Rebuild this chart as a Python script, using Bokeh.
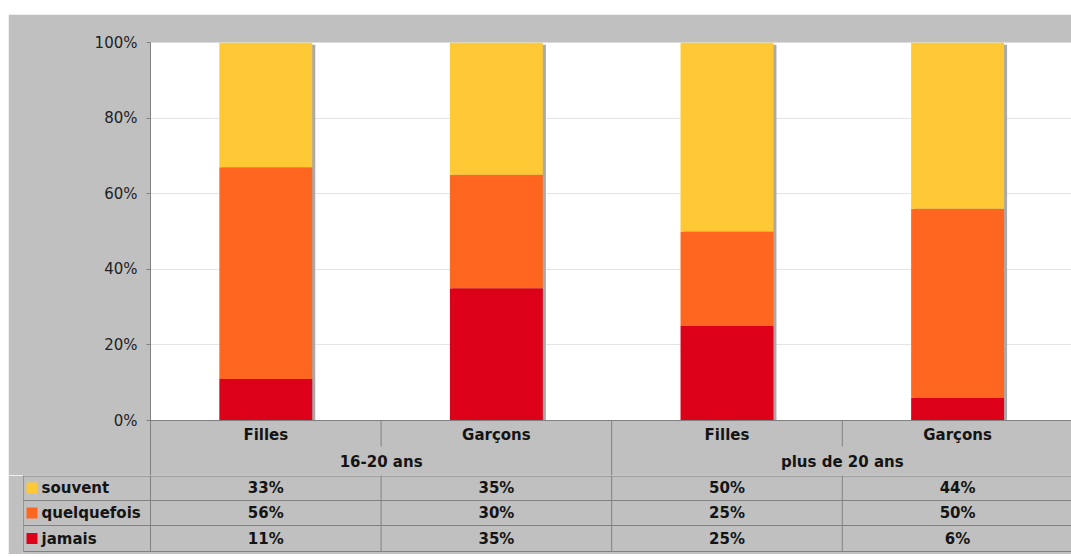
from bokeh.plotting import figure
from bokeh.layouts import row
from bokeh.models import (Range1d, PrintfTickFormatter, FixedTicker, Spacer, ColumnDataSource,
                          BoxAnnotation, Span)
from bokeh.core.properties import value
from bokeh.embed import file_html
from bokeh.resources import INLINE

# ---- data ----
groups = ["16-20 ans", "plus de 20 ans"]
subcats = ["Filles", "Garçons", "Filles", "Garçons"]
series = ["souvent", "quelquefois", "jamais"]
souvent = [33, 35, 50, 44]
quelquefois = [56, 30, 25, 50]
jamais = [11, 35, 25, 6]
colors = {"souvent": "#FFC936", "quelquefois": "#FF6620", "jamais": "#DC0018"}
yticks = [0, 20, 40, 60, 80, 100]

BG = "#c0c0c0"
LINE = "#808080"
FONT = "DejaVu Sans"

W = 1063
COLW = 230.6             # px per category column
XEND = (W - 142) / COLW  # visible columns in frame
xs = [i + 0.5 for i in range(len(subcats))]
PXU = 378 / 100          # px per percent unit
YMIN = -55 / PXU         # frame extends under 0% to hold the header rows

txt = dict(text_font=value(FONT), text_font_size="15px", text_font_style="bold",
           text_color="#141414", text_baseline="middle")

# ---- chart ----
p1 = figure(width=W, height=461, output_backend="svg", toolbar_location=None,
            x_range=Range1d(0, XEND), y_range=Range1d(YMIN, 100),
            min_border_left=142, min_border_right=0, min_border_top=28, min_border_bottom=0,
            x_axis_location=None)
p1.background_fill_color = BG
p1.border_fill_color = BG
p1.outline_line_color = None
p1.add_layout(BoxAnnotation(left=0, right=XEND, bottom=0, top=100, fill_color="white",
                            fill_alpha=1, line_color=None, level="image"))
p1.xgrid.visible = False
p1.ygrid.grid_line_color = "#e4e4e4"
p1.yaxis.ticker = FixedTicker(ticks=yticks)
p1.yaxis.formatter = PrintfTickFormatter(format="%d%%")
p1.yaxis.axis_line_color = LINE
p1.yaxis.major_tick_line_color = LINE
p1.yaxis.major_tick_out = 4
p1.yaxis.major_tick_in = 0
p1.yaxis.minor_tick_line_color = None
p1.yaxis.major_label_standoff = 9
p1.yaxis.major_label_text_font = FONT
p1.yaxis.major_label_text_font_size = "15px"
p1.yaxis.major_label_text_color = "#222222"

# shadows
shadow_off = 3 / COLW
p1.vbar(x=[x + shadow_off for x in xs], width=0.403, bottom=0,
        top=[j + q + s - 0.6 for j, q, s in zip(jamais, quelquefois, souvent)],
        fill_color="#a9a9a9", line_color=None)

src = ColumnDataSource(dict(x=xs, jamais=jamais, quelquefois=quelquefois, souvent=souvent))
stack_order = ["jamais", "quelquefois", "souvent"]
p1.vbar_stack(stack_order, x="x", width=0.403, source=src,
              fill_color=[colors[s] for s in stack_order], line_color=None)

# baseline and header separators
p1.add_layout(Span(location=0, dimension="width", line_color=LINE, line_width=1))
sx = [1, 3, 2]
p1.segment(x0=sx, y0=[0, 0, 0], x1=sx, y1=[-26 / PXU, -26 / PXU, YMIN],
           line_color=LINE, line_width=1)
# header rows (categories and groups)
p1.text(x=xs, y=[-14 / PXU] * len(subcats), text=subcats, text_align="center", **txt)
p1.text(x=[1, 3], y=[-41.5 / PXU] * 2, text=groups, text_align="center", **txt)

# ---- data table ----
XSTART = -128 / COLW
p2 = figure(width=W, height=79, output_backend="svg", toolbar_location=None,
            x_range=Range1d(XSTART, XEND), y_range=Range1d(134, 55),
            min_border_left=14, min_border_right=0, min_border_top=0, min_border_bottom=0,
            x_axis_location=None, y_axis_location=None)
p2.background_fill_color = BG
p2.border_fill_color = BG
p2.outline_line_color = None
p2.grid.visible = False

xl = XSTART + 0.003
hy = [55.5, 80, 105, 131]
p2.segment(x0=[xl] * len(hy), y0=hy, x1=[XEND] * len(hy), y1=hy, line_color=LINE, line_width=1)
vx = [xl, 0, 1, 2, 3]
p2.segment(x0=vx, y0=[55] * len(vx), x1=vx, y1=[131] * len(vx), line_color=LINE, line_width=1)

row_y = [67.5, 92.5, 118]
vals = {"souvent": souvent, "quelquefois": quelquefois, "jamais": jamais}
for s, ry in zip(series, row_y):
    p2.text(x=xs, y=[ry] * len(xs), text=[f"{v}%" for v in vals[s]],
            text_align="center", **txt)

# legend keys in table
kx = XSTART + (31.5 - 22) / COLW
p2.scatter(x=[kx] * 3, y=row_y, marker="square", size=11,
           fill_color=[colors[s] for s in series], line_color=None)
p2.text(x=[XSTART + (41 - 22) / COLW] * 3, y=row_y, text=series, text_align="left", **txt)

roots = [
    Spacer(width=1071, height=14),
    row(Spacer(width=8, height=461), p1),
    row(Spacer(width=8, height=79), p2),
]
open("out.html", "w").write(file_html(roots, INLINE))
